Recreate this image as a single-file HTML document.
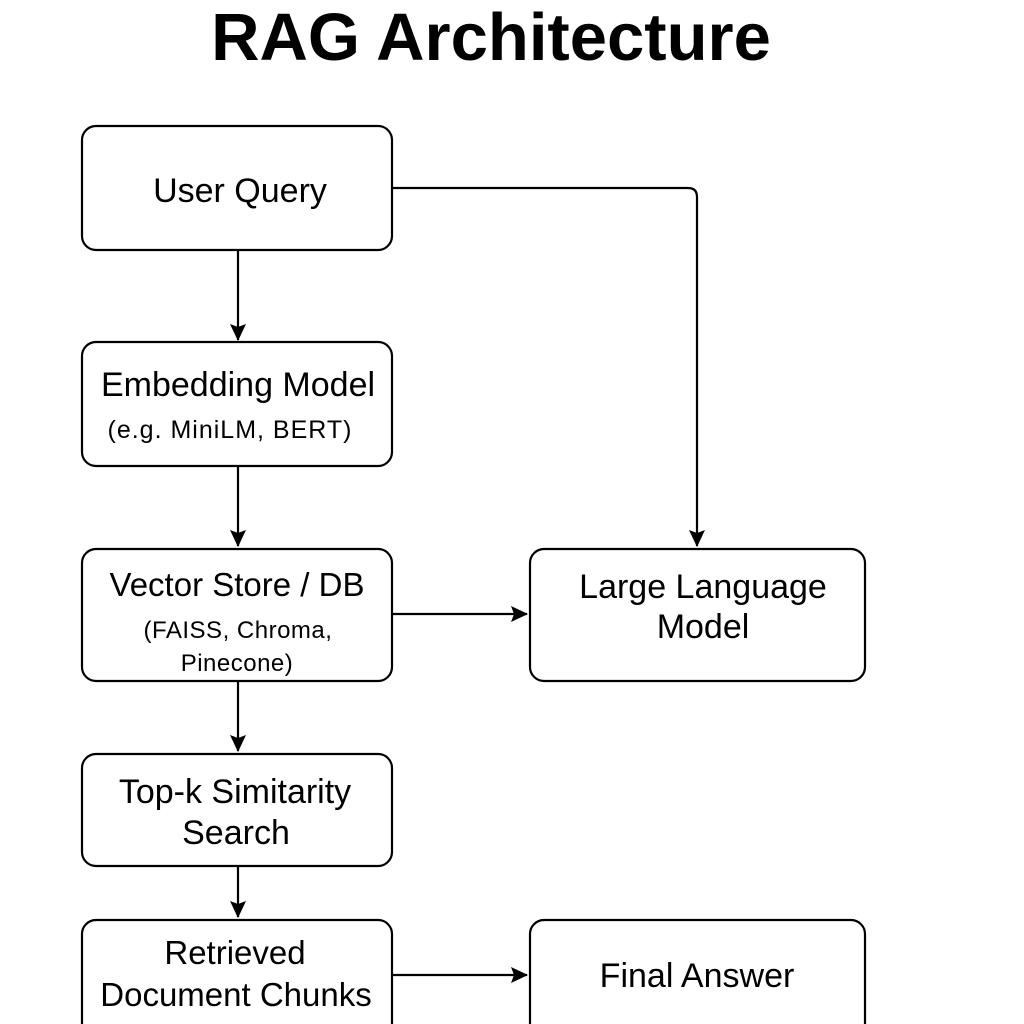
<!DOCTYPE html>
<html><head><style>
html,body{margin:0;padding:0;background:#fff;width:1024px;height:1024px;overflow:hidden}
svg text{font-family:"Liberation Sans",sans-serif;fill:#000;text-anchor:middle}
</style></head><body>
<svg width="1024" height="1024" viewBox="0 0 1024 1024" xmlns="http://www.w3.org/2000/svg">
<defs><marker id="a" markerWidth="18" markerHeight="18" refX="16" refY="8" orient="auto" markerUnits="userSpaceOnUse">
<path d="M0,0 L17,8 L0,16 L3,8 z" fill="#000"/></marker></defs>
<text x="491" y="60" font-size="67" font-weight="bold">RAG Architecture</text>
<g fill="none" stroke="#000" stroke-width="2.2">
<rect x="82" y="126" width="310" height="124" rx="14"/>
<rect x="82" y="342" width="310" height="124" rx="14"/>
<rect x="82" y="549" width="310" height="132" rx="14"/>
<rect x="82" y="754" width="310" height="112" rx="14"/>
<rect x="82" y="920" width="310" height="130" rx="14"/>
<rect x="530" y="549" width="335" height="132" rx="14"/>
<rect x="530" y="920" width="335" height="130" rx="14"/>
<line x1="238" y1="250" x2="238" y2="340" marker-end="url(#a)"/>
<line x1="238" y1="466" x2="238" y2="546" marker-end="url(#a)"/>
<line x1="238" y1="681" x2="238" y2="751" marker-end="url(#a)"/>
<line x1="238" y1="866" x2="238" y2="917" marker-end="url(#a)"/>
<line x1="392" y1="614" x2="527" y2="614" marker-end="url(#a)"/>
<line x1="392" y1="975" x2="527" y2="975" marker-end="url(#a)"/>
<path d="M392,188 H688 Q697,188 697,197 V546" marker-end="url(#a)"/>
</g>
<text x="240" y="202" font-size="34">User Query</text>
<text x="238" y="396" font-size="34">Embedding Model</text>
<text x="230" y="438" font-size="25" letter-spacing="1">(e.g. MiniLM, BERT)</text>
<text x="237" y="596" font-size="33">Vector Store / DB</text>
<text x="238" y="638" font-size="24" letter-spacing="0.5">(FAISS, Chroma,</text>
<text x="237" y="671" font-size="24" letter-spacing="0.5">Pinecone)</text>
<text x="235" y="803" font-size="34">Top-k Simitarity</text>
<text x="236" y="844" font-size="34">Search</text>
<text x="235" y="964" font-size="33">Retrieved</text>
<text x="236" y="1006" font-size="33">Document Chunks</text>
<text x="703" y="598" font-size="34">Large Language</text>
<text x="703" y="638" font-size="34">Model</text>
<text x="697" y="987" font-size="34">Final Answer</text>
</svg>
</body></html>
